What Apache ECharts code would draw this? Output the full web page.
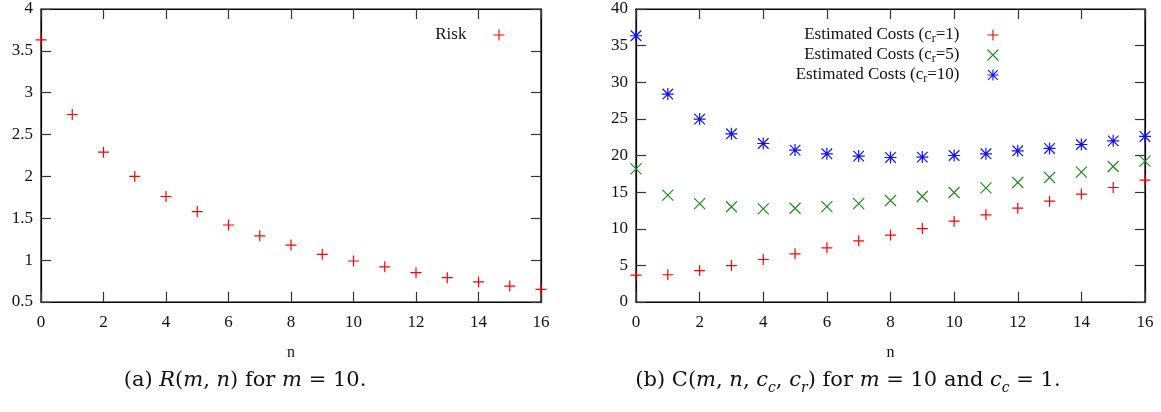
<!DOCTYPE html>
<html>
<head>
<meta charset="utf-8">
<script src="https://cdn.jsdelivr.net/npm/echarts@6/dist/echarts.min.js"></script>
<style>html,body{margin:0;padding:0;background:#fff;}#chart{width:1161px;height:412px;}</style>
</head>
<body>
<div id="chart"></div>
<script>
// ---- data ----
const nValues = [0, 1, 2, 3, 4, 5, 6, 7, 8, 9, 10, 11, 12, 13, 14, 15, 16];
const riskValues = [3.63, 2.74, 2.29, 2.0, 1.76, 1.58, 1.42, 1.29, 1.18, 1.07, 0.99, 0.92, 0.85, 0.79, 0.74, 0.69, 0.65];
const costCr1 = [3.66, 3.72, 4.29, 4.97, 5.8, 6.57, 7.39, 8.35, 9.13, 10.03, 11.04, 11.9, 12.81, 13.77, 14.73, 15.63, 16.64];
const costCr5 = [18.18, 14.59, 13.44, 13.0, 12.72, 12.8, 13.03, 13.44, 13.85, 14.4, 14.95, 15.59, 16.31, 17.0, 17.73, 18.5, 19.23];
const costCr10 = [36.35, 28.39, 24.97, 22.96, 21.64, 20.74, 20.23, 19.92, 19.73, 19.78, 20.0, 20.23, 20.64, 20.96, 21.5, 22.0, 22.6];
const leftSeriesName = 'Risk';
const rightSeriesNames = ['Estimated Costs (c_r=1)', 'Estimated Costs (c_r=5)', 'Estimated Costs (c_r=10)'];
const xAxisName = 'n';

// ---- styling ----
const SERIF = '"Liberation Serif", "Times New Roman", serif';
const CAPFONT = '"DejaVu Serif", serif';
const PLUS = 'path://M0,5L10,5M5,0L5,10';
const CROSS = 'path://M0,0L10,10M10,0L0,10';
const STAR = 'path://M0,5L10,5M5,0L5,10M0.6,0.6L9.4,9.4M9.4,0.6L0.6,9.4';
const RED = '#ff0000', GREEN = '#1e8c1e', BLUE = '#1010ff';

function pairs(ys) { return nValues.map((n, i) => [n, ys[i]]); }

function xAxisDef(grid, pos, withLabels) {
  return {
    gridIndex: grid, type: 'value', min: 0, max: 16, interval: 2, position: pos,
    axisLine: { show: true, onZero: false, lineStyle: { color: '#000', width: 1.2 } },
    axisTick: { show: true, inside: true, length: 10, lineStyle: { color: '#333', width: 1.2 } },
    splitLine: { show: false },
    axisLabel: withLabels ? { show: true, margin: 12, fontFamily: SERIF, fontSize: 17, color: '#111' } : { show: false },
    name: withLabels ? xAxisName : '',
    nameLocation: 'middle', nameGap: 43,
    nameTextStyle: { fontFamily: SERIF, fontSize: 16, color: '#111' }
  };
}
function yAxisDef(grid, pos, min, max, interval, withLabels) {
  return {
    gridIndex: grid, type: 'value', min: min, max: max, interval: interval, position: pos,
    axisLine: { show: true, onZero: false, lineStyle: { color: '#000', width: 1.2 } },
    axisTick: { show: true, inside: true, length: 10, lineStyle: { color: '#333', width: 1.2 } },
    splitLine: { show: false },
    axisLabel: withLabels ? { show: true, margin: 8, fontFamily: SERIF, fontSize: 17, color: '#111' } : { show: false }
  };
}
function scatter(name, xi, yi, data, symbol, size, color) {
  return {
    name: name, type: 'scatter', xAxisIndex: xi, yAxisIndex: yi, data: data,
    symbol: symbol, symbolSize: size, clip: false,
    itemStyle: { color: color, borderColor: color, borderWidth: 1.2, opacity: 1 },
    emphasis: { disabled: true }
  };
}

const legendText = { fontFamily: SERIF, fontSize: 17, color: '#111', lineHeight: 20,
  rich: { sub: { fontFamily: SERIF, fontSize: 12, lineHeight: 12, verticalAlign: 'bottom', color: '#111' } } };

const chart = echarts.init(document.getElementById('chart'), null, { renderer: 'canvas' });
chart.setOption({
  animation: false,
  backgroundColor: '#fff',
  grid: [
    { left: 41, right: 620, top: 9, bottom: 110, show: true, borderColor: '#000', borderWidth: 1.2, backgroundColor: 'transparent' },
    { left: 636, right: 16, top: 9, bottom: 110, show: true, borderColor: '#000', borderWidth: 1.2, backgroundColor: 'transparent' }
  ],
  xAxis: [xAxisDef(0, 'bottom', true), xAxisDef(0, 'top', false), xAxisDef(1, 'bottom', true), xAxisDef(1, 'top', false)],
  yAxis: [yAxisDef(0, 'left', 0.5, 4, 0.5, true), yAxisDef(0, 'right', 0.5, 4, 0.5, false),
          yAxisDef(1, 'left', 0, 40, 5, true), yAxisDef(1, 'right', 0, 40, 5, false)],
  legend: [
    {
      orient: 'vertical', align: 'right', right: 651, top: 20, itemGap: 0,
      itemWidth: 11, itemHeight: 11, selectedMode: false,
      itemStyle: { borderWidth: 1.1 },
      data: [{ name: leftSeriesName, icon: PLUS }],
      textStyle: Object.assign({ padding: [0, 22, 0, 0] }, legendText)
    },
    {
      orient: 'vertical', align: 'right', right: 157, top: 20, itemGap: 0,
      itemWidth: 11, itemHeight: 11, selectedMode: false,
      itemStyle: { borderWidth: 1.1 },
      data: [{ name: rightSeriesNames[0], icon: PLUS }, { name: rightSeriesNames[1], icon: CROSS }, { name: rightSeriesNames[2], icon: STAR }],
      formatter: name => name.replace('c_r', 'c{sub|r}'),
      textStyle: Object.assign({ padding: [0, 23, 0, 0] }, legendText)
    }
  ],
  series: [
    scatter(leftSeriesName, 0, 0, pairs(riskValues), PLUS, 11, RED),
    scatter(rightSeriesNames[0], 2, 2, pairs(costCr1), PLUS, 11, RED),
    scatter(rightSeriesNames[1], 2, 2, pairs(costCr5), CROSS, 11, GREEN),
    scatter(rightSeriesNames[2], 2, 2, pairs(costCr10), STAR, 12, BLUE)
  ],
  graphic: [
    {
      type: 'text', x: 245, y: 381,
      style: {
        text: '(a) {i|R}({i|m}, {i|n}) for {i|m} = 10.',
        fontFamily: CAPFONT, fontSize: 21, fill: '#111', align: 'center', verticalAlign: 'middle', lineHeight: 28,
        rich: { i: { fontFamily: CAPFONT, fontStyle: 'italic', fontSize: 21, lineHeight: 28 } }
      }
    },
    {
      type: 'text', x: 848, y: 381,
      style: {
        text: '(b) C({i|m}, {i|n}, {i|c}{s|c}, {i|c}{s|r}) for {i|m} = 10 and {i|c}{s|c} = 1.',
        fontFamily: CAPFONT, fontSize: 21, fill: '#111', align: 'center', verticalAlign: 'middle', lineHeight: 28,
        rich: {
          i: { fontFamily: CAPFONT, fontStyle: 'italic', fontSize: 21, lineHeight: 28 },
          s: { fontFamily: CAPFONT, fontStyle: 'italic', fontSize: 14, lineHeight: 16, verticalAlign: 'bottom' }
        }
      }
    }
  ]
});
</script>
</body>
</html>
